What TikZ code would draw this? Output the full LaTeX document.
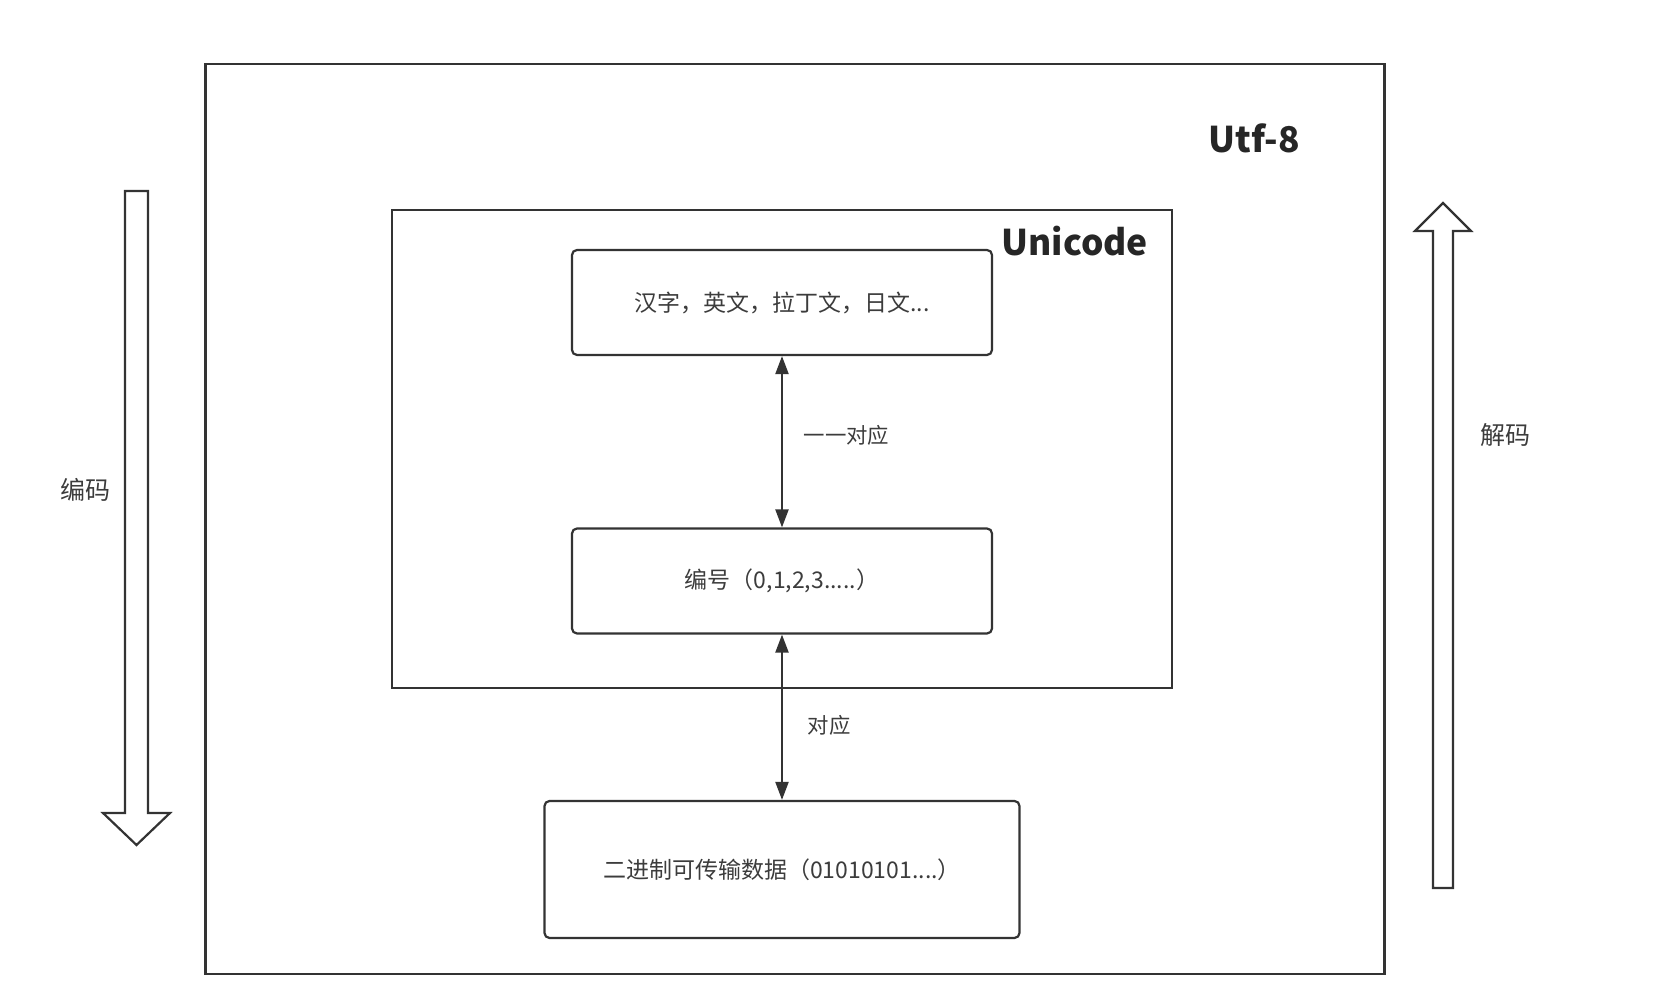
\documentclass[tikz,border=0pt]{standalone}
\usepackage{fontspec}
\setmainfont{Noto Sans CJK SC}
\usetikzlibrary{arrows.meta}
\definecolor{linegray}{HTML}{333333}
\definecolor{textgray}{HTML}{3C3C3C}

\begin{document}
\begin{tikzpicture}[x=0.5pt, y=-0.5pt, >={Triangle[length=9pt,width=6.5pt]},
    frame/.style={draw=linegray, line width=1.1pt, inner sep=0pt},
    box/.style={draw=linegray, line width=1.1pt, rounded corners=2.5pt, minimum width=210pt, minimum height=52.5pt, font=\fontsize{11.5}{13}\selectfont, text=textgray},
    title/.style={font=\fontsize{17.7}{20}\selectfont\bfseries, text=black!85},
    lbl/.style={font=\fontsize{12.5}{14}\selectfont, text=textgray},
    elbl/.style={font=\fontsize{10.7}{12}\selectfont, text=textgray},
    link/.style={<->, draw=linegray, line width=1.1pt},
    hollow/.style={draw=linegray, line width=1.1pt, fill=white, line join=miter}]
  \useasboundingbox (0,0) rectangle (1662,1004);

  % frames
  \node[frame, minimum width=589.5pt, minimum height=455pt] (utf) at (795,519) {};
  \node[title, anchor=east] (utflbl) at (1307,138) {Utf-8};
  \node[frame, minimum width=390pt, minimum height=239pt] (uni) at (782,449) {};
  \node[title, anchor=east] (unilbl) at ([xshift=-9pt,yshift=-16pt]uni.north east) {Unicode};

  % boxes
  \node[box] (chars) at (782,302.5) {汉字，英文，拉丁文，日文...};
  \node[box] (codes) at (782,581) {编号（0,1,2,3.....）};
  \node[box, minimum width=237.5pt, minimum height=68.5pt] (bits) at (782,869.5) {二进制可传输数据（01010101....）};

  \draw[link] (chars) -- node[elbl, right, xshift=7pt, yshift=3pt] {一一对应} (codes);
  \draw[link] (codes) -- node[elbl, right, xshift=9pt, yshift=-4pt] {对应} (bits);

  % encode / decode arrows
  \draw[hollow] (125,191) -- (148,191) -- (148,813) -- (170,813) -- (136.5,845)
    -- (103,813) -- (125,813) -- cycle;
  \node[lbl] (enc) at (86,490) {编码};
  \draw[hollow] (1433,888) -- (1453,888) -- (1453,231) -- (1471,231) -- (1443,203)
    -- (1415,231) -- (1433,231) -- cycle;
  \node[lbl] (dec) at (1505,435) {解码};
\end{tikzpicture}
\end{document}
